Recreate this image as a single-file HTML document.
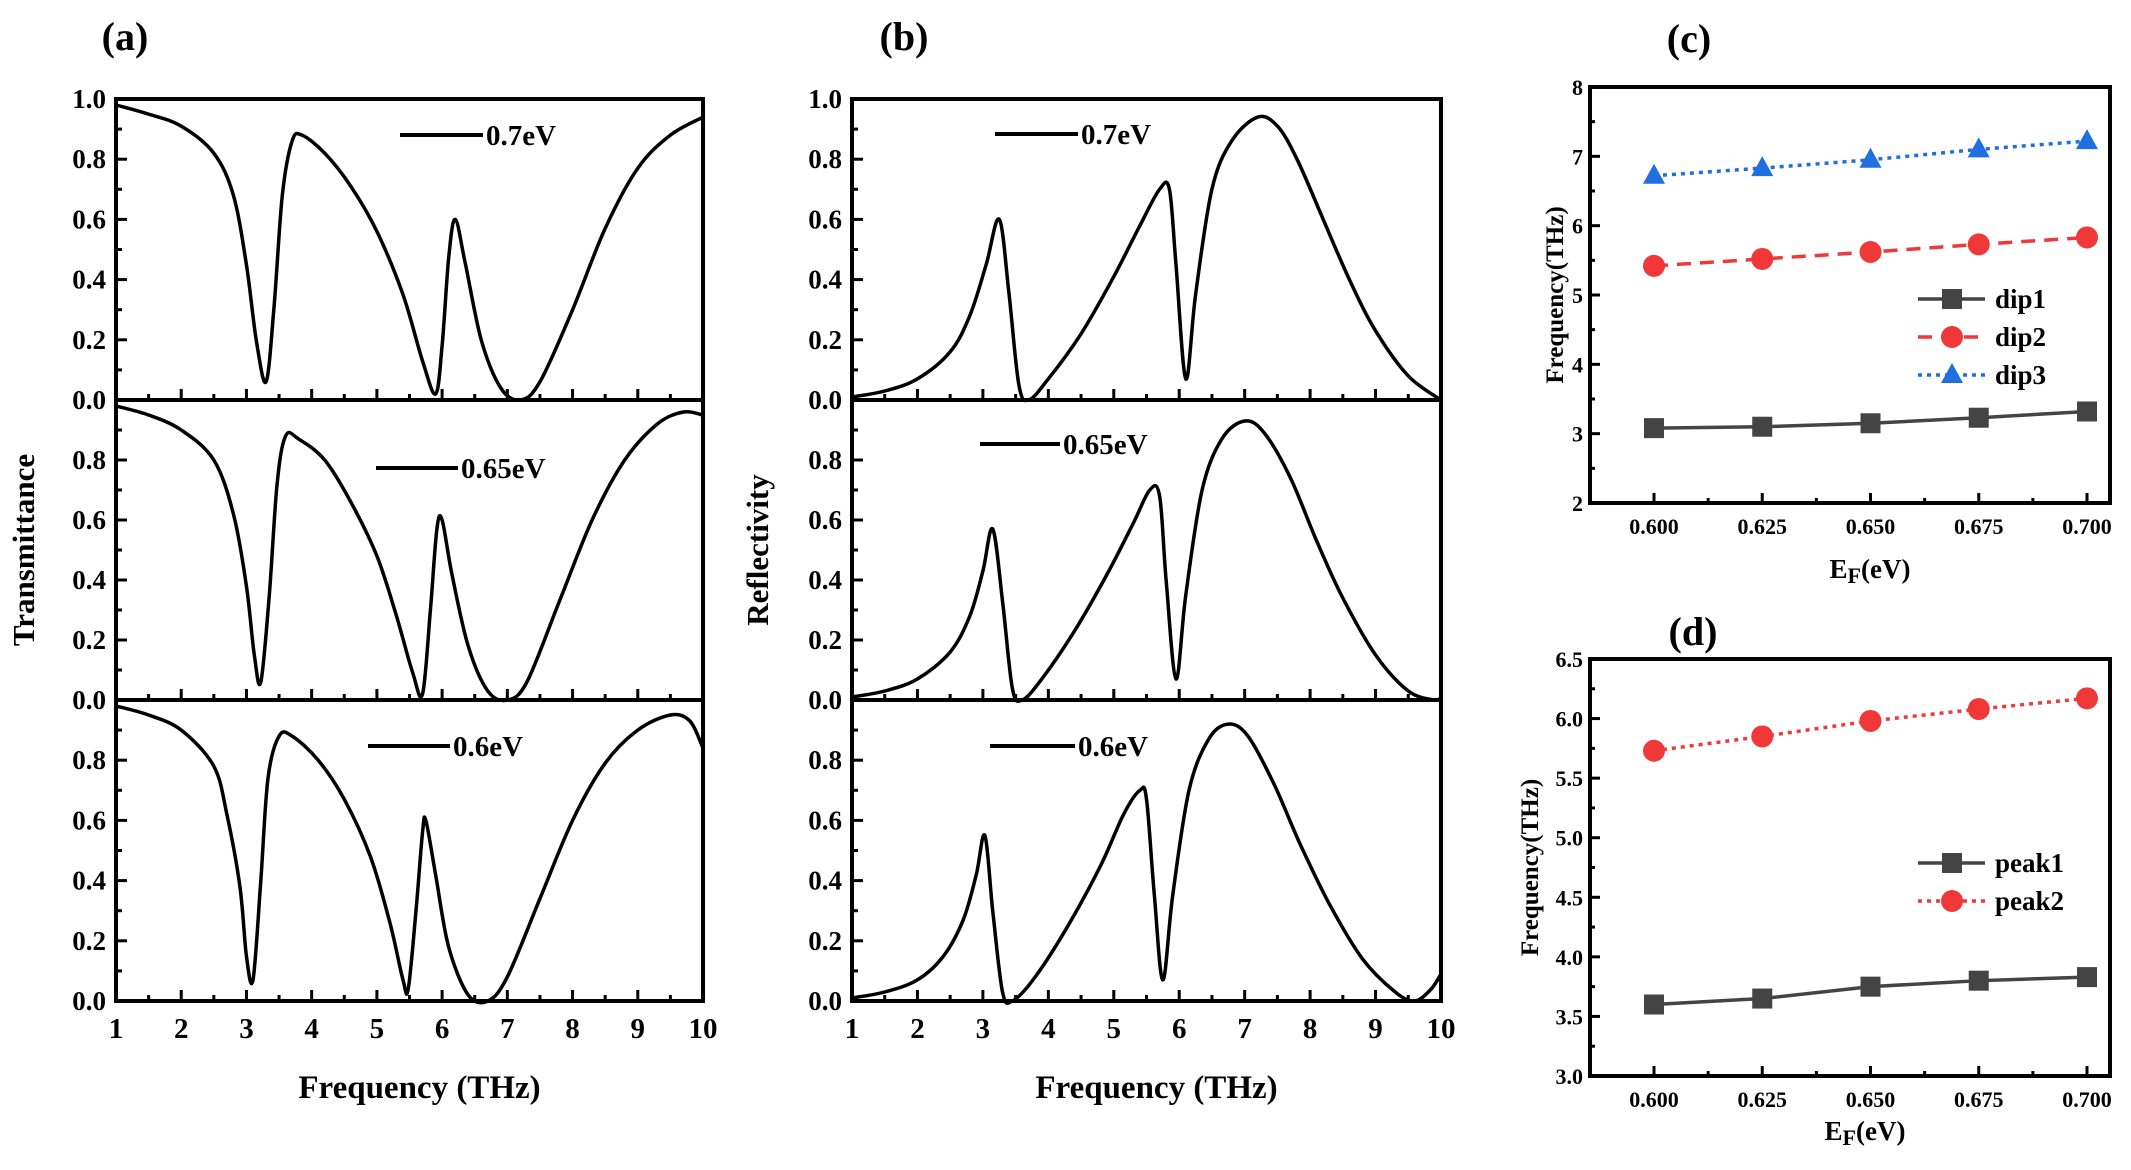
<!DOCTYPE html>
<html><head><meta charset="utf-8"><style>
html,body{margin:0;padding:0;background:#fff;}
svg{display:block;font-family:"Liberation Serif",serif;font-weight:bold;}
</style></head><body>
<svg id="s" width="2131" height="1170" viewBox="0 0 2131 1170" xmlns="http://www.w3.org/2000/svg"></svg>
<script>
const S=document.getElementById('s');let out='';
function cr(pts){let d='M'+pts[0][0].toFixed(1)+','+pts[0][1].toFixed(1);
for(let i=0;i<pts.length-1;i++){const p0=pts[Math.max(0,i-1)],p1=pts[i],p2=pts[i+1],p3=pts[Math.min(pts.length-1,i+2)];
const t=6;d+=' C'+(p1[0]+(p2[0]-p0[0])/t).toFixed(1)+','+(p1[1]+(p2[1]-p0[1])/t).toFixed(1)+' '+(p2[0]-(p3[0]-p1[0])/t).toFixed(1)+','+(p2[1]-(p3[1]-p1[1])/t).toFixed(1)+' '+p2[0].toFixed(1)+','+p2[1].toFixed(1);}return d;}
function txt(x,y,s,sz,anc,extra){out+=`<text x="${x}" y="${y}" font-size="${sz}" text-anchor="${anc||'middle'}" ${extra||''}>${s}</text>`;}
function spectral(X0,X1,tops,curves,labels,ylab,ylx,tag,tagx){
 const bot=tops[3];
 const fx=f=>X0+(f-1)/9*(X1-X0);
 for(let k=0;k<3;k++){const y0=tops[k],y1=tops[k+1];const fy=v=>y1-v*(y1-y0);
  for(let f=1;f<=10;f+=0.5){const len=(f%1==0)?11:6;out+=`<line x1="${fx(f)}" y1="${y1}" x2="${fx(f)}" y2="${y1-len}" stroke="#000" stroke-width="3"/>`;}
  for(let v=0;v<=1.0001;v+=0.1){const len=(Math.round(v*10)%2==0)?11:6;out+=`<line x1="${X0}" y1="${fy(v)}" x2="${X0+len}" y2="${fy(v)}" stroke="#000" stroke-width="3"/>`;}
  for(let v=0;v<=1.0001;v+=0.2){if(k>0&&v>0.95)continue;txt(X0-10,fy(v)+9,v.toFixed(1),27,'end');}
  out+=`<path d="${cr(curves[k].map(p=>[fx(p[0]),fy(p[1])]))}" fill="none" stroke="#000" stroke-width="3.5"/>`;
  const L=labels[k];out+=`<line x1="${L[0]}" y1="${y0+L[2]}" x2="${L[1]}" y2="${y0+L[2]}" stroke="#000" stroke-width="4"/>`;txt(L[1]+3,y0+L[2]+10,L[3],29,'start');
  out+=`<rect x="${X0}" y="${y0}" width="${X1-X0}" height="${y1-y0}" fill="none" stroke="#000" stroke-width="4"/>`;
 }
 for(let f=1;f<=10;f++)txt(fx(f),bot+37,f,29);
 txt((X0+X1)/2+10,bot+97,'Frequency (THz)',33);
 out+=`<text transform="translate(${ylx},${(tops[0]+bot)/2}) rotate(-90)" font-size="31" text-anchor="middle">${ylab}</text>`;
 txt(tagx,50,tag,40);
}
const T7=[[1,.98],[1.5,.95],[2,.91],[2.5,.82],[2.8,.68],[3.0,.45],[3.15,.2],[3.3,.06],[3.42,.3],[3.55,.68],[3.7,.86],[3.85,.88],[4.2,.82],[4.6,.71],[5.0,.56],[5.4,.35],[5.7,.13],[5.9,.02],[6.0,.18],[6.1,.47],[6.2,.6],[6.35,.46],[6.6,.2],[6.9,.04],[7.2,0],[7.5,.06],[8,.3],[8.5,.57],[9,.77],[9.5,.88],[10,.94]];
const T65=[[1,.98],[1.5,.95],[2,.9],[2.5,.8],[2.8,.62],[3.0,.38],[3.12,.15],[3.22,.06],[3.35,.35],[3.47,.72],[3.6,.88],[3.8,.87],[4.2,.8],[4.6,.66],[5.0,.48],[5.3,.28],[5.55,.09],[5.7,.02],[5.82,.3],[5.92,.57],[6.0,.6],[6.15,.42],[6.4,.18],[6.7,.03],[7.0,0],[7.3,.06],[7.8,.33],[8.3,.6],[8.8,.8],[9.3,.92],[9.7,.96],[10,.95]];
const T6=[[1,.98],[1.5,.95],[2,.9],[2.5,.78],[2.7,.62],[2.9,.38],[3.0,.15],[3.1,.07],[3.22,.4],[3.33,.74],[3.5,.88],[3.7,.88],[4.1,.8],[4.5,.67],[4.9,.48],[5.2,.26],[5.4,.07],[5.48,.04],[5.6,.3],[5.7,.56],[5.75,.6],[5.9,.42],[6.1,.18],[6.4,.02],[6.7,0],[7.0,.08],[7.5,.34],[8,.6],[8.5,.79],[9,.9],[9.5,.95],[9.8,.93],[10,.84]];
const R7=[[1,.01],[1.5,.03],[2,.07],[2.5,.16],[2.8,.28],[3.05,.45],[3.25,.6],[3.4,.35],[3.55,.05],[3.7,0],[4,.07],[4.5,.22],[5,.41],[5.4,.58],[5.7,.7],[5.85,.7],[5.95,.45],[6.1,.07],[6.25,.35],[6.5,.7],[6.8,.86],[7.2,.94],[7.5,.91],[7.8,.8],[8.2,.6],[8.6,.4],[9,.23],[9.5,.08],[10,0]];
const R65=[[1,.01],[1.5,.03],[2,.07],[2.5,.16],[2.8,.28],[3.0,.43],[3.15,.57],[3.3,.33],[3.45,.04],[3.6,0],[3.9,.07],[4.4,.23],[4.9,.42],[5.3,.59],[5.55,.7],[5.7,.68],[5.8,.4],[5.95,.07],[6.1,.35],[6.35,.7],[6.65,.87],[7.0,.93],[7.3,.89],[7.7,.74],[8.1,.53],[8.5,.34],[9,.15],[9.5,.03],[9.9,0],[10,.01]];
const R6=[[1,.01],[1.5,.03],[2,.07],[2.4,.15],[2.7,.27],[2.9,.42],[3.03,.55],[3.15,.3],[3.3,.03],[3.45,0],[3.8,.08],[4.3,.25],[4.8,.45],[5.15,.62],[5.4,.7],[5.5,.67],[5.62,.35],[5.75,.07],[5.9,.35],[6.15,.7],[6.45,.87],[6.75,.92],[7.05,.88],[7.45,.72],[7.85,.52],[8.3,.32],[8.8,.14],[9.3,.03],[9.6,0],[9.85,.04],[10,.09]];
const tops=[99,400,700,1001];
spectral(116,703,tops,[T7,T65,T6],[[400,483,36,'0.7eV'],[376,458,68,'0.65eV'],[368,450,46,'0.6eV']],'Transmittance',34,'(a)',125);
spectral(852,1441,tops,[R7,R65,R6],[[995,1078,35,'0.7eV'],[980,1060,44,'0.65eV'],[990,1075,46,'0.6eV']],'Reflectivity',768,'(b)',904);
function param(Y0,Y1,ymin,ymax,ystep,ydec,series,leg,legY,ylx){
 const X0=1590,X1=2110;const fx=e=>1654+(e-0.6)/0.1*(2087-1654);const fy=v=>Y1-(v-ymin)/(ymax-ymin)*(Y1-Y0);
 for(let e=0.6;e<=0.7001;e+=0.0125){const maj=Math.round((e-0.6)*1e4)%250==0;out+=`<line x1="${fx(e)}" y1="${Y1}" x2="${fx(e)}" y2="${Y1-(maj?10:5)}" stroke="#000" stroke-width="3"/>`;}
 for(let v=ymin;v<=ymax+1e-6;v+=ystep/2){const maj=Math.abs(((v-ymin)/ystep)-Math.round((v-ymin)/ystep))<1e-6;out+=`<line x1="${X0}" y1="${fy(v)}" x2="${X0+(maj?10:5)}" y2="${fy(v)}" stroke="#000" stroke-width="3"/>`;if(maj)txt(X0-7,fy(v)+8,v.toFixed(ydec),22,'end');}
 [0.6,0.625,0.65,0.675,0.7].forEach(e=>txt(fx(e),Y1+31,e.toFixed(3),22));
 series.forEach(s=>{const pts=s.d.map((v,i)=>[fx(0.6+i*0.025),fy(v)]);out+=`<polyline points="${pts.map(p=>p.join(',')).join(' ')}" fill="none" stroke="${s.c}" stroke-width="3.5" ${s.da?'stroke-dasharray="'+s.da+'"':''}/>`;pts.forEach(p=>out+=mk(s.m,p[0],p[1],s.c));});
 leg.forEach((l,i)=>{const y=legY+i*38;const s=series[l.i];out+=`<line x1="1918" y1="${y}" x2="1985" y2="${y}" stroke="${s.c}" stroke-width="3.5" ${s.da?'stroke-dasharray="'+s.da+'"':''}/>`;out+=mk(s.m,1952,y,s.c);txt(1995,y+9,l.t,27,'start');});
 out+=`<rect x="${X0}" y="${Y0}" width="${X1-X0}" height="${Y1-Y0}" fill="none" stroke="#000" stroke-width="4"/>`;
 out+=`<text transform="translate(${ylx},${(Y0+Y1)/2}) rotate(-90)" font-size="25" text-anchor="middle">Frequency(THz)</text>`;
}
function mk(m,x,y,c){if(m=='s')return `<rect x="${x-10}" y="${y-10}" width="20" height="20" fill="${c}"/>`;if(m=='o')return `<circle cx="${x}" cy="${y}" r="11" fill="${c}"/>`;return `<polygon points="${x},${y-12} ${x-11},${y+8} ${x+11},${y+8}" fill="${c}"/>`;}
param(87,503,2,8,1,0,[{d:[3.08,3.1,3.15,3.23,3.32],c:'#444',m:'s'},{d:[5.42,5.52,5.62,5.73,5.83],c:'#f03838',m:'o',da:'14,9'},{d:[6.72,6.83,6.95,7.1,7.22],c:'#1f6fe0',m:'t',da:'4,5'}],[{i:0,t:'dip1'},{i:1,t:'dip2'},{i:2,t:'dip3'}],299,1563);
txt(1870,578,'E<tspan font-size="22" dy="5">F</tspan><tspan dy="-5">(eV)</tspan>',27);
txt(1689,52,'(c)',40);
param(659,1076,3,6.5,0.5,1,[{d:[3.6,3.65,3.75,3.8,3.83],c:'#444',m:'s'},{d:[5.73,5.85,5.98,6.08,6.17],c:'#f03838',m:'o',da:'4,5'}],[{i:0,t:'peak1'},{i:1,t:'peak2'}],863,1538);
txt(1865,1140,'E<tspan font-size="22" dy="5">F</tspan><tspan dy="-5">(eV)</tspan>',27);
txt(1693,645,'(d)',40);
S.innerHTML=out;
</script>
</body></html>
